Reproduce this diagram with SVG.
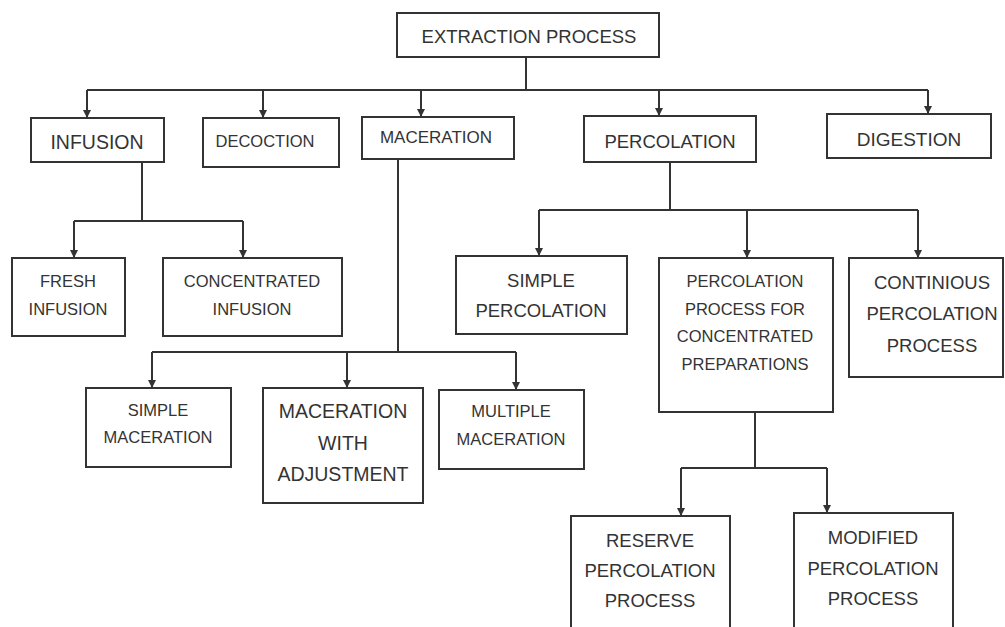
<svg xmlns="http://www.w3.org/2000/svg" width="1005" height="627" viewBox="0 0 1005 627">
<style>
  .box { fill: #ffffff; stroke: #333333; stroke-width: 2; }
  .lbl { font-family: "Liberation Sans", Arial, sans-serif; fill: #333333; text-anchor: middle; }
  .con { fill: none; stroke: #333333; stroke-width: 2; }
  .arr { fill: none; stroke: #333333; stroke-width: 2; marker-end: url(#ah); }
</style>
<defs>
  <marker id="ah" viewBox="0 0 10 10" refX="10" refY="5" markerWidth="8" markerHeight="8" markerUnits="userSpaceOnUse" orient="auto">
    <path d="M0,0 L10,5 L0,10 z" fill="#333333"/>
  </marker>
</defs>
<rect width="1005" height="627" fill="#ffffff"/>

<g id="connectors">
  <path class="con" d="M526,57 V90 M87,90 H928"/>
  <path class="arr" d="M87,90 V118"/>
  <path class="arr" d="M263,90 V118"/>
  <path class="arr" d="M421,90 V117"/>
  <path class="arr" d="M659,90 V116"/>
  <path class="arr" d="M928,90 V114"/>

  <path class="con" d="M142,162 V221 M74,221 H243"/>
  <path class="arr" d="M74,221 V258"/>
  <path class="arr" d="M243,221 V258"/>

  <path class="con" d="M398,159 V352 M152,352 H516"/>
  <path class="arr" d="M152,352 V388"/>
  <path class="arr" d="M347,352 V388"/>
  <path class="arr" d="M516,352 V390"/>

  <path class="con" d="M670,162 V210 M539,210 H918"/>
  <path class="arr" d="M539,210 V256"/>
  <path class="arr" d="M747,210 V258"/>
  <path class="arr" d="M918,210 V258"/>

  <path class="con" d="M755,412 V468 M681,468 H827"/>
  <path class="arr" d="M681,468 V516"/>
  <path class="arr" d="M827,468 V513"/>
</g>

<g id="extraction-process">
  <rect class="box" x="397" y="13" width="262" height="44"/>
  <text class="lbl" x="529" y="43" font-size="18.5">EXTRACTION PROCESS</text>
</g>
<g id="infusion">
  <rect class="box" x="31" y="118" width="133" height="44"/>
  <text class="lbl" x="97" y="149" font-size="19.5">INFUSION</text>
</g>
<g id="decoction">
  <rect class="box" x="203" y="118" width="136" height="49"/>
  <text class="lbl" x="265" y="147" font-size="16.5">DECOCTION</text>
</g>
<g id="maceration">
  <rect class="box" x="362" y="117" width="152" height="42"/>
  <text class="lbl" x="436" y="143" font-size="17">MACERATION</text>
</g>
<g id="percolation">
  <rect class="box" x="584" y="116" width="172" height="46"/>
  <text class="lbl" x="670" y="148" font-size="18.5">PERCOLATION</text>
</g>
<g id="digestion">
  <rect class="box" x="827" y="114" width="164" height="44"/>
  <text class="lbl" x="909" y="146" font-size="19">DIGESTION</text>
</g>

<g id="fresh-infusion">
  <rect class="box" x="12" y="258" width="113" height="78"/>
  <text class="lbl" x="68" y="287" font-size="16.5">FRESH</text>
  <text class="lbl" x="68" y="315" font-size="16.5">INFUSION</text>
</g>
<g id="concentrated-infusion">
  <rect class="box" x="163" y="258" width="179" height="78"/>
  <text class="lbl" x="252" y="287" font-size="16.5">CONCENTRATED</text>
  <text class="lbl" x="252" y="315" font-size="16.5">INFUSION</text>
</g>

<g id="simple-maceration">
  <rect class="box" x="86" y="388" width="145" height="79"/>
  <text class="lbl" x="158" y="416" font-size="16.5">SIMPLE</text>
  <text class="lbl" x="158" y="443" font-size="16.5">MACERATION</text>
</g>
<g id="maceration-with-adjustment">
  <rect class="box" x="263" y="388" width="160" height="115"/>
  <text class="lbl" x="343" y="418" font-size="19.5">MACERATION</text>
  <text class="lbl" x="343" y="450" font-size="19.5">WITH</text>
  <text class="lbl" x="343" y="481" font-size="19.5">ADJUSTMENT</text>
</g>
<g id="multiple-maceration">
  <rect class="box" x="439" y="390" width="145" height="79"/>
  <text class="lbl" x="511" y="417" font-size="16.5">MULTIPLE</text>
  <text class="lbl" x="511" y="445" font-size="16.5">MACERATION</text>
</g>

<g id="simple-percolation">
  <rect class="box" x="456" y="256" width="171" height="78"/>
  <text class="lbl" x="541" y="287" font-size="18.5">SIMPLE</text>
  <text class="lbl" x="541" y="317" font-size="18.5">PERCOLATION</text>
</g>
<g id="percolation-concentrated-preparations">
  <rect class="box" x="659" y="258" width="174" height="154"/>
  <text class="lbl" x="745" y="287" font-size="16.5">PERCOLATION</text>
  <text class="lbl" x="745" y="315" font-size="16.5">PROCESS FOR</text>
  <text class="lbl" x="745" y="342" font-size="16.5">CONCENTRATED</text>
  <text class="lbl" x="745" y="370" font-size="16.5">PREPARATIONS</text>
</g>
<g id="continious-percolation">
  <rect class="box" x="849" y="258" width="154" height="119"/>
  <text class="lbl" x="932" y="289" font-size="18.5">CONTINIOUS</text>
  <text class="lbl" x="932" y="320" font-size="18.5">PERCOLATION</text>
  <text class="lbl" x="932" y="352" font-size="18.5">PROCESS</text>
</g>

<g id="reserve-percolation">
  <rect class="box" x="571" y="516" width="159" height="130"/>
  <text class="lbl" x="650" y="547" font-size="18.5">RESERVE</text>
  <text class="lbl" x="650" y="577" font-size="18.5">PERCOLATION</text>
  <text class="lbl" x="650" y="607" font-size="18.5">PROCESS</text>
</g>
<g id="modified-percolation">
  <rect class="box" x="794" y="513" width="159" height="130"/>
  <text class="lbl" x="873" y="544" font-size="18.5">MODIFIED</text>
  <text class="lbl" x="873" y="575" font-size="18.5">PERCOLATION</text>
  <text class="lbl" x="873" y="605" font-size="18.5">PROCESS</text>
</g>
</svg>
